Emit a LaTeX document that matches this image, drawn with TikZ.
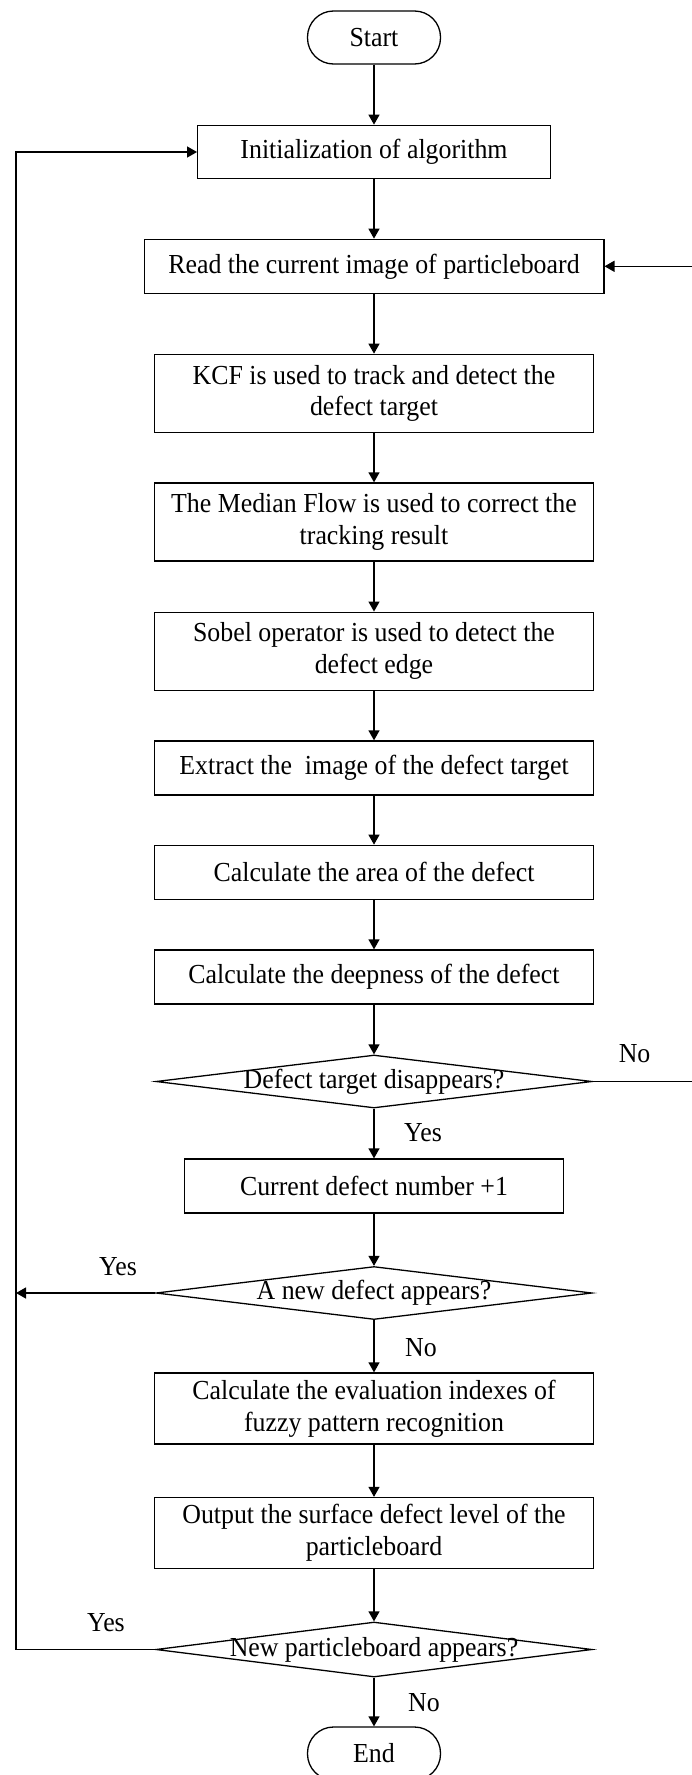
\documentclass[tikz,border=0pt]{standalone}
\usepackage{fontspec}
\setmainfont{Liberation Serif}[FakeStretch=0.94]
\usetikzlibrary{shapes.geometric,arrows.meta}
\begin{document}
\begin{tikzpicture}[x=1pt,y=-1pt,
  every node/.style={font=\fontsize{27.5}{31.7}\selectfont},
  box/.style={draw,line width=1.3pt,rectangle,inner sep=0pt,align=center},
  term/.style={draw,line width=1.3pt,rectangle,rounded corners=26pt,minimum width=133pt,minimum height=53pt,inner sep=0pt},
  dec/.style={draw,line width=1.3pt,diamond,minimum width=436pt,minimum height=53pt,inner sep=0pt},
  arr/.style={line width=1.3pt,-{Triangle[length=10pt,width=11pt]}},
  conn/.style={line width=1.3pt},
  lbl/.style={inner sep=0pt}]
\useasboundingbox (0,0) rectangle (691,1775);

\node[term] (start) at (374,37.5) {Start};
\node[box,minimum width=352.6pt,minimum height=53.4pt] (init) at (374,152) {Initialization of algorithm};
\node[box,minimum width=459.7pt,minimum height=54pt] (read) at (374,266.3) {Read the current image of particleboard};
\node[box,minimum width=438.5pt,minimum height=78pt] (kcf) at (374,393.3) {KCF is used to track and detect the\\defect target};
\node[box,minimum width=438.5pt,minimum height=78pt] (median) at (374,522) {The Median Flow is used to correct the\\tracking result};
\node[box,minimum width=438.5pt,minimum height=78pt] (sobel) at (374,651.2) {Sobel operator is used to detect the\\defect edge};
\node[box,minimum width=438.5pt,minimum height=54pt] (extract) at (374,768) {Extract the\ \ image of the defect target};
\node[box,minimum width=438.5pt,minimum height=54pt] (area) at (374,872.3) {Calculate the area of the defect};
\node[box,minimum width=438.5pt,minimum height=54pt] (deep) at (374,977) {Calculate the deepness of the defect};
\node[dec] (d1) at (374,1081.5) {\makebox[0pt]{Defect target disappears?}};
\node[box,minimum width=379.5pt,minimum height=54pt] (current) at (374,1186) {Current defect number +1};
\node[dec] (d2) at (374,1293) {\makebox[0pt]{A new defect appears?}};
\node[box,minimum width=438.5pt,minimum height=71pt] (eval) at (374,1408.5) {Calculate the evaluation indexes of\\fuzzy pattern recognition};
\node[box,minimum width=438.5pt,minimum height=71pt] (output) at (374,1533) {Output the surface defect level of the\\particleboard};
\node[dec,minimum height=55pt] (d3) at (374,1649.5) {\makebox[0pt]{New particleboard appears?}};
\node[term] (end) at (374,1753.5) {End};

\node[lbl] (no1) at (634.6,1054) {No};
\node[lbl] (yes1) at (423,1133) {Yes};
\node[lbl] (yes2) at (118,1267) {Yes};
\node[lbl] (no2) at (421,1348) {No};
\node[lbl] (yes3) at (106,1623) {Yes};
\node[lbl] (no3) at (424,1703) {No};

\coordinate (lft) at (16,0);
\coordinate (rgt) at (696,0);

\draw[arr] (start) -- (init);
\draw[arr] (init) -- (read);
\draw[arr] (read) -- (kcf);
\draw[arr] (kcf) -- (median);
\draw[arr] (median) -- (sobel);
\draw[arr] (sobel) -- (extract);
\draw[arr] (extract) -- (area);
\draw[arr] (area) -- (deep);
\draw[arr] (deep) -- (d1);
\draw[arr] (d1) -- (current);
\draw[arr] (current) -- (d2);
\draw[arr] (d2) -- (eval);
\draw[arr] (eval) -- (output);
\draw[arr] (output) -- (d3);
\draw[arr] (d3) -- (end);

\draw[arr] (d1.east) -- (d1.east -| rgt) |- (read.east);
\draw[arr] (d2.west) -- (d2.west -| lft);
\draw[arr] (d3.west) -- (d3.west -| lft) |- (init.west);
\end{tikzpicture}
\end{document}
